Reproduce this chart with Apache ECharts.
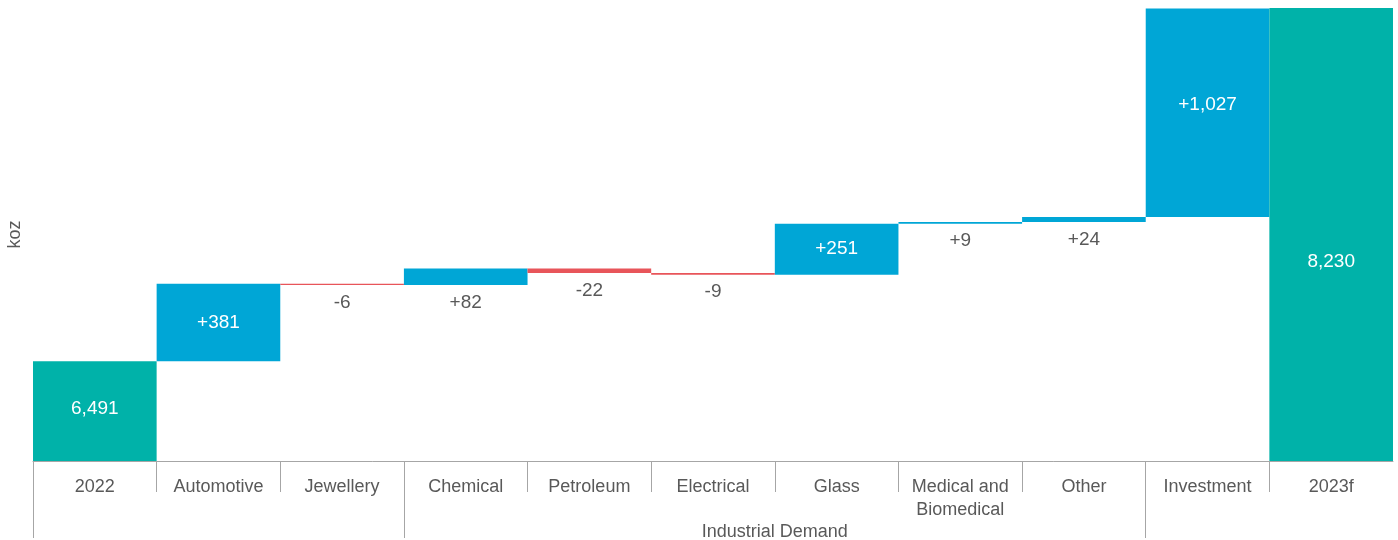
<!DOCTYPE html>
<html>
<head>
<meta charset="utf-8">
<script src="https://cdn.jsdelivr.net/npm/echarts@6/dist/echarts.min.js"></script>
<style>html,body{margin:0;padding:0;background:#fff}#c{width:1398px;height:540px}</style>
</head>
<body>
<div id="c"></div>
<script>
const categories = ['2022','Automotive','Jewellery','Chemical','Petroleum','Electrical','Glass','Medical and\nBiomedical','Other','Investment','2023f'];
const values = [6491, 381, -6, 82, -22, -9, 251, 9, 24, 1027, 8230];
const isTotal = [true, false, false, false, false, false, false, false, false, false, true];
const groupLabel = 'Industrial Demand';
const groupStart = 3, groupEnd = 9;
const yMin = 6000, yMax = 8230;

const C_TOTAL = '#00B2A9', C_UP = '#00A6D6', C_DOWN = '#E8555A';
const fmt = v => Math.abs(v).toLocaleString('en-US');

let running = 0;
const baseData = [], barData = [];
values.forEach((v, i) => {
  if (isTotal[i]) {
    baseData.push(0);
    running = v;
    barData.push({ value: v, itemStyle: { color: C_TOTAL },
      label: { show: true, position: 'inside', color: '#fff', offset: i === values.length - 1 ? [0, 27] : [0, -2], formatter: fmt(v) } });
  } else {
    const lo = Math.min(running, running + v);
    baseData.push(lo);
    running += v;
    const big = Math.abs(v) >= 200;
    barData.push({ value: Math.abs(v), itemStyle: { color: v >= 0 ? C_UP : C_DOWN },
      label: big ? { show: true, position: 'inside', color: '#fff', offset: Math.abs(v) > 1000 ? [0, -8] : [0, 0], formatter: (v >= 0 ? '+' : '-') + fmt(v) }
                 : { show: true, position: 'bottom', distance: 8, color: '#595959', formatter: (v >= 0 ? '+' : '-') + fmt(v) } });
  }
});

const n = categories.length;
const shortTicks = [];
for (let k = 1; k < n; k++) if (k !== groupStart && k !== groupEnd) shortTicks.push(k);

const chart = echarts.init(document.getElementById('c'));
chart.setOption({
  animation: false,
  textStyle: { fontFamily: 'Liberation Sans, Arial, sans-serif' },
  grid: { left: 33, right: 5, top: 8, bottom: 79, outerBoundsMode: 'none', containLabel: false },
  xAxis: [
    { type: 'category', data: categories, position: 'bottom',
      axisLine: { lineStyle: { color: '#A6A6A6', width: 1 } },
      axisTick: { show: false },
      axisLabel: { color: '#595959', fontSize: 18, margin: 15, lineHeight: 23, interval: 0 } },
    { type: 'value', min: 0, max: n, position: 'bottom',
      axisLine: { show: false }, splitLine: { show: false },
      axisTick: { show: true, customValues: shortTicks, length: 31, lineStyle: { color: '#A6A6A6' } },
      axisLabel: { show: false } },
    { type: 'value', min: 0, max: n, position: 'bottom',
      axisLine: { show: false }, splitLine: { show: false },
      axisTick: { show: true, customValues: [0, groupStart, groupEnd], length: 77, lineStyle: { color: '#A6A6A6' } },
      axisLabel: { show: true, customValues: [(groupStart + groupEnd) / 2], margin: 62, color: '#595959', fontSize: 18, formatter: () => groupLabel } }
  ],
  yAxis: { type: 'value', min: yMin, max: yMax, name: 'koz', nameLocation: 'middle', nameRotate: 90, nameGap: 9,
    nameTextStyle: { color: '#595959', fontSize: 18 },
    axisLine: { show: false }, axisTick: { show: false }, axisLabel: { show: false }, splitLine: { show: false } },
  series: [
    { type: 'bar', stack: 'w', data: baseData, itemStyle: { color: 'transparent' }, barCategoryGap: '0%', silent: true },
    { type: 'bar', stack: 'w', data: barData, barCategoryGap: '0%', label: { fontSize: 19 } }
  ]
});
</script>
</body>
</html>
